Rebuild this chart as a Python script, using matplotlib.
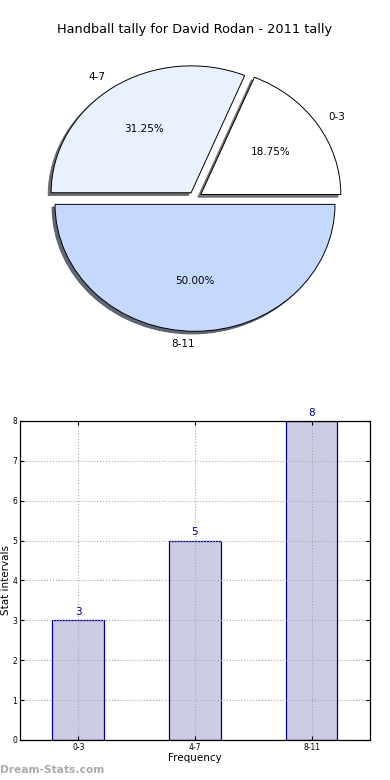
import matplotlib
matplotlib.use('Agg')
import matplotlib.pyplot as plt

# data
categories = ['0-3', '4-7', '8-11']
counts = [3, 5, 8]
pie_colors = ['#FFFFFF', '#EAF1FE', '#C5D9FE']
explode = [0.05, 0.05, 0.05]

fig = plt.figure(figsize=(3.9, 7.8), dpi=100)

# pie chart (top)
ax1 = fig.add_axes([0.0, 0.5385, 1.0, 0.41])
wedges, texts, autotexts = ax1.pie(counts, labels=categories, colors=pie_colors,
                                   explode=explode, autopct='%1.2f%%',
                                   shadow={'ox': -0.015, 'oy': -0.015, 'shade': 0.6, 'alpha': 0.9},
                                   startangle=0, labeldistance=1.1, pctdistance=0.6,
                                   wedgeprops={'edgecolor': 'black', 'linewidth': 0.7},
                                   textprops={'fontsize': 7.5})
texts[2].set_ha('right')
ax1.set_aspect('auto')
ax1.set_xlim(-1.393, 1.393)
ax1.set_ylim(-1.276, 1.244)
ax1.axis('off')
fig.text(0.5, 1 - 30 / 780, 'Handball tally for David Rodan - 2011 tally',
         ha='center', va='center', fontsize=9.3)

# bar chart (bottom)
ax2 = fig.add_axes([0.0513, 0.0513, 0.897, 0.409])
pos = range(len(categories))
bars = ax2.bar(pos, counts, width=0.445, color='#CCCCE5', edgecolor='navy',
               linewidth=0.9, zorder=2)
for p, v in zip(pos, counts):
    ax2.text(p, v + 0.08, str(v), ha='center', va='bottom', color='navy', fontsize=7.5)
ax2.set_xlim(-0.5, 2.5)
ax2.set_ylim(0, 8)
ax2.set_xticks(list(pos))
ax2.set_xticklabels(categories)
ax2.tick_params(direction='in', top=True, right=True, labelsize=5.5, length=3, pad=2)
ax2.grid(True, linestyle=':', color='#aaaaaa', linewidth=0.8, zorder=3)
ax2.set_axisbelow(False)
ax2.set_xlabel('Frequency', fontsize=7.5, labelpad=1)
ax2.set_ylabel('Stat intervals', fontsize=7.5)
ax2.yaxis.set_label_coords(-0.027, 0.5)
for s in ax2.spines.values():
    s.set_linewidth(0.9)
    s.set_zorder(5)

fig.text(0.0, 1 - 770 / 780, 'Dream-Stats.com', ha='left', va='center',
         fontsize=7.7, color='#aaaaaa', fontweight='bold')

fig.savefig('out.png', dpi=100)
